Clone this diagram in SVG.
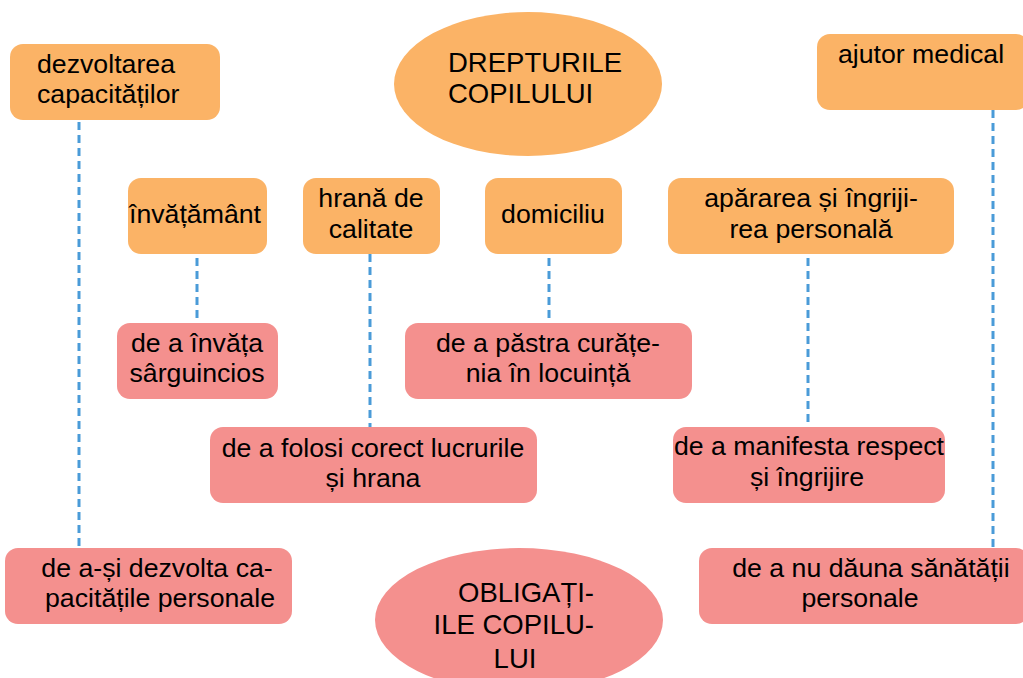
<svg xmlns="http://www.w3.org/2000/svg" width="1023" height="678" viewBox="0 0 1023 678">
<style>
.o{fill:#FBB366}
.p{fill:#F4908E}
text{font-family:"Liberation Sans",Arial,sans-serif;font-size:26.7px;fill:#000}
.c{text-anchor:middle}
.e{font-size:27.5px}
.ln{stroke:#4A9BD8;stroke-width:3;stroke-dasharray:8 5;fill:none}
</style>
<rect width="1023" height="678" fill="#fff"/>
<g id="connectors">
<line class="ln" x1="79" y1="122" x2="79" y2="547"/>
<line class="ln" x1="197" y1="258" x2="197" y2="323"/>
<line class="ln" x1="370" y1="254" x2="370" y2="427"/>
<line class="ln" x1="549" y1="258" x2="549" y2="323"/>
<line class="ln" x1="808" y1="258" x2="808" y2="427"/>
<line class="ln" x1="993" y1="110" x2="993" y2="548"/>
</g>
<g id="drepturile">
<ellipse class="o" cx="528" cy="84" rx="134" ry="72"/>
<text class="e" x="448" y="72">DREPTURILE</text>
<text class="e" x="448" y="103">COPILULUI</text>
</g>
<g id="dezvoltarea">
<rect class="o" x="10" y="44" width="210" height="76" rx="13"/>
<text x="37" y="73">dezvoltarea</text>
<text x="37" y="103">capacităților</text>
</g>
<g id="ajutor">
<rect class="o" x="817" y="34" width="212" height="76" rx="13"/>
<text class="c" x="921" y="63">ajutor medical</text>
</g>
<g id="invatamant">
<rect class="o" x="128" y="178" width="139" height="76" rx="13"/>
<text class="c" x="195" y="223">învățământ</text>
</g>
<g id="hrana">
<rect class="o" x="303" y="178" width="137" height="76" rx="13"/>
<text class="c" x="371" y="207">hrană de</text>
<text class="c" x="371" y="238">calitate</text>
</g>
<g id="domiciliu">
<rect class="o" x="485" y="178" width="137" height="76" rx="13"/>
<text class="c" x="553" y="223">domiciliu</text>
</g>
<g id="apararea">
<rect class="o" x="668" y="178" width="286" height="76" rx="13"/>
<text class="c" x="811" y="207">apărarea și îngriji-</text>
<text class="c" x="811" y="238">rea personală</text>
</g>
<g id="invata">
<rect class="p" x="117" y="323" width="161" height="76" rx="13"/>
<text class="c" x="197" y="352">de a învăța</text>
<text class="c" x="197" y="382">sârguincios</text>
</g>
<g id="curatenia">
<rect class="p" x="405" y="323" width="287" height="76" rx="13"/>
<text class="c" x="548" y="352">de a păstra curățe-</text>
<text class="c" x="548" y="382">nia în locuință</text>
</g>
<g id="folosi">
<rect class="p" x="210" y="427" width="327" height="76" rx="13"/>
<text class="c" x="373" y="457">de a folosi corect lucrurile</text>
<text class="c" x="373" y="487">și hrana</text>
</g>
<g id="manifesta">
<rect class="p" x="673" y="427" width="272" height="76" rx="13"/>
<text class="c" x="809" y="455">de a manifesta respect</text>
<text class="c" x="807" y="486">și îngrijire</text>
</g>
<g id="dezvolta">
<rect class="p" x="5" y="548" width="287" height="76" rx="13"/>
<text class="c" x="157" y="577">de a-și dezvolta ca-</text>
<text class="c" x="160" y="607">pacitățile personale</text>
</g>
<g id="obligatiile">
<ellipse class="p" cx="519" cy="620" rx="144" ry="72"/>
<text class="e" x="594" y="602" text-anchor="end">OBLIGAȚI-</text>
<text class="e" x="594" y="634" text-anchor="end">ILE COPILU-</text>
<text class="e c" x="515" y="668">LUI</text>
</g>
<g id="dauna">
<rect class="p" x="699" y="548" width="330" height="76" rx="13"/>
<text class="c" x="871" y="577">de a nu dăuna sănătății</text>
<text class="c" x="860" y="607">personale</text>
</g>
</svg>
